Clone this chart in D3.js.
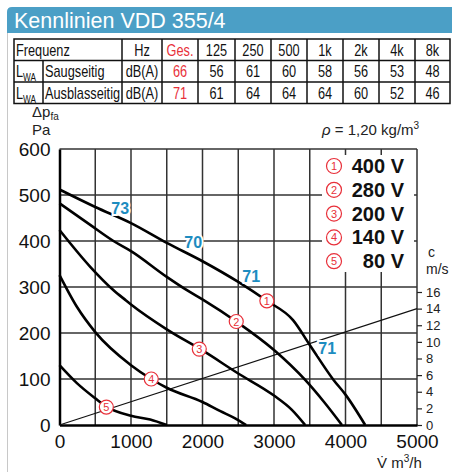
<!DOCTYPE html>
<html lang="de">
<head>
<meta charset="UTF-8">
<title>Kennlinien VDD 355/4</title>
<script src="https://d3js.org/d3.v7.min.js"></script>
<style>
  body { margin: 0; background: #fff; }
  svg { display: block; font-family: "Liberation Sans", Arial, sans-serif; }
</style>
</head>
<body>
<div id="chart"></div>
<script>
// table data
const freqs = ["Hz", "Ges.", "125", "250", "500", "1k", "2k", "4k", "8k"];
const saugseitig = ["dB(A)", 66, 56, 61, 60, 58, 56, 53, 48];
const ausblasseitig = ["dB(A)", 71, 61, 64, 64, 64, 60, 52, 46];

// chart ticks
const xTicks = [0, 1000, 2000, 3000, 4000, 5000];
const yTicks = [0, 100, 200, 300, 400, 500, 600];
const cTicks = [0, 2, 4, 6, 8, 10, 12, 14, 16];

// fan curves, [V m3/h, dp Pa]
const curve1 = [[0,512],[500,474],[1000,439],[1500,396],[2000,356],[2500,311],[2900,270],[3266,228],[3500,174],[3833,98],[4000,66],[4275,0]];
const curve2 = [[0,482],[430,435],[755,400],[1000,378],[1500,322],[1782,293],[2010,272],[2472,225],[3000,163],[3436,98],[3700,50],[3950,0]];
const curve3 = [[0,424],[430,344],[756,293],[920,272],[1000,262],[1500,208],[2000,162],[2500,112],[3000,64],[3250,33],[3436,0]];
const curve4 = [[0,326],[243,257],[500,202],[1000,130],[1283,100],[1500,81],[2000,50],[2250,30],[2450,15],[2611,0]];
const curve5 = [[0,130],[243,91],[500,58],[655,40],[1000,20],[1268,12],[1500,0]];
const curves = [curve1, curve2, curve3, curve4, curve5];
const voltages = ["400 V", "280 V", "200 V", "140 V", "80 V"];
const markerPts = [[2900,270],[2472,225],[1955,165],[1283,100],[655,39]];

// sound level labels on curve 1
const levelLabels = [
  {v: 849, p: 470, t: "73"},
  {v: 1870, p: 396, t: "70"},
  {v: 2681, p: 322, t: "71"},
  {v: 3744, p: 165, t: "71"}
];

// velocity line, [V m3/h, c m/s]
const velocity = [[0, 0], [5000, 14]];

const width = 452, height = 472;
const red = "#e8303a", blue = "#1d8cc0";

const svg = d3.select("#chart").append("svg")
  .attr("width", width).attr("height", height);

// frame + title banner
svg.append("line").attr("x1", 7.5).attr("x2", 7.5).attr("y1", 20).attr("y2", height)
  .attr("stroke", "#c8c8c8").attr("stroke-width", 1);
svg.append("path")
  .attr("d", "M7,33 V12 Q7,7 12,7 H452 V33 Z")
  .attr("fill", "#4b9fc6");
svg.append("text").attr("x", 14).attr("y", 28)
  .attr("fill", "#fff").attr("font-size", 21.5)
  .text("Kennlinien VDD 355/4");

// table (text squeezed horizontally, like a narrow face)
const colX = [14, 43, 122, 162, 198, 235, 271, 307, 343, 379, 415, 450];
const rowY = [39, 60.5, 82, 103.5];
const tbl = svg.append("g").attr("font-size", 17).attr("fill", "#111");
tbl.append("rect").attr("x", colX[0]).attr("y", rowY[0])
  .attr("width", colX[11] - colX[0]).attr("height", rowY[3] - rowY[0])
  .attr("fill", "none").attr("stroke", "#111").attr("stroke-width", 1.5);
rowY.slice(1, 3).forEach(yy => tbl.append("line")
  .attr("x1", colX[0]).attr("x2", colX[11]).attr("y1", yy).attr("y2", yy)
  .attr("stroke", "#111").attr("stroke-width", 1.5));
colX.slice(1, 11).forEach((xx, i) => tbl.append("line")
  .attr("x1", xx).attr("x2", xx).attr("y1", i === 0 ? rowY[1] : rowY[0]).attr("y2", rowY[3])
  .attr("stroke", "#111").attr("stroke-width", 1.5));

function cell(tx, ty, anchor) {
  return tbl.append("text")
    .attr("transform", `translate(${tx},${ty}) scale(0.75,1)`)
    .attr("text-anchor", anchor || "start");
}
cell(colX[0] + 2, rowY[1] - 5).text("Frequenz");
[["Saugseitig", saugseitig], ["Ausblasseitig", ausblasseitig]].forEach(([name, vals], r) => {
  const base = rowY[r + 2] - 5;
  const l = cell(colX[0] + 2, base);
  l.append("tspan").text("L");
  l.append("tspan").attr("font-size", 11).attr("dy", 4).text("WA");
  cell(colX[1] + 2, base).text(name);
  vals.forEach((v, i) => cell((colX[i + 2] + colX[i + 3]) / 2, base, "middle")
    .attr("fill", i === 1 ? red : "#111").text(v));
});
freqs.forEach((f, i) => cell((colX[i + 2] + colX[i + 3]) / 2, rowY[1] - 5, "middle")
  .attr("fill", i === 1 ? red : "#111").text(f));

// scales
const x = d3.scaleLinear().domain([0, 5000]).range([59.5, 417]);
const y = d3.scaleLinear().domain([0, 600]).range([425, 149]);
const c = d3.scaleLinear().domain([0, 16]).range([425, 292]);

// grid
const grid = svg.append("g").attr("stroke", "#333").attr("stroke-width", 1.5);
d3.range(500, 5001, 500).forEach(v => grid.append("line")
  .attr("x1", x(v)).attr("x2", x(v)).attr("y1", y(0)).attr("y2", y(600)));
d3.range(100, 601, 100).forEach(p => grid.append("line")
  .attr("x1", x(0)).attr("x2", x(5000)).attr("y1", y(p)).attr("y2", y(p)));

// legend box (white, covers grid)
const lg = svg.append("g");
lg.append("rect").attr("x", 322).attr("y", 155).attr("width", 92).attr("height", 117).attr("fill", "#fff");

// axes
svg.append("g").attr("transform", `translate(${x(0)},0)`)
  .call(d3.axisLeft(y).tickValues(yTicks).tickSize(0).tickPadding(9))
  .call(g => g.select(".domain").attr("stroke", "#000").attr("stroke-width", 2.5))
  .call(g => g.selectAll("text").attr("font-size", 19).attr("fill", "#111").attr("font-family", "Liberation Sans, Arial, sans-serif"));
svg.append("g").attr("transform", `translate(0,${y(0)})`)
  .call(d3.axisBottom(x).tickValues(xTicks).tickFormat(d3.format("d")).tickSize(0).tickPadding(10))
  .call(g => g.select(".domain").attr("stroke", "#000").attr("stroke-width", 2.5))
  .call(g => g.selectAll("text").attr("font-size", 19).attr("fill", "#111").attr("font-family", "Liberation Sans, Arial, sans-serif"));
svg.append("g").attr("transform", `translate(${x(5000)},0)`)
  .call(d3.axisRight(c).tickValues(cTicks).tickSize(5).tickPadding(4))
  .call(g => g.select(".domain").remove())
  .call(g => g.selectAll("line").attr("stroke", "#222").attr("stroke-width", 1.2))
  .call(g => g.selectAll("text").attr("font-size", 13).attr("fill", "#222").attr("font-family", "Liberation Sans, Arial, sans-serif"));

// axis titles
const at = svg.append("g").attr("fill", "#222").attr("font-size", 15);
const dp = at.append("text").attr("x", 32).attr("y", 117);
dp.append("tspan").text("Δp");
dp.append("tspan").attr("font-size", 10).attr("dy", 3).text("fa");
at.append("text").attr("x", 32).attr("y", 135).text("Pa");
at.append("text").attr("x", 428).attr("y", 257).attr("font-size", 14).text("c");
at.append("text").attr("x", 426).attr("y", 274).attr("font-size", 14).text("m/s");
const vt = at.append("text").attr("x", 377).attr("y", 468);
vt.append("tspan").text("V\u0307  m");
vt.append("tspan").attr("font-size", 10).attr("dy", -6).text("3");
vt.append("tspan").attr("dy", 6).text("/h");
const rho = at.append("text").attr("x", 322).attr("y", 135);
rho.append("tspan").attr("font-style", "italic").text("ρ");
rho.append("tspan").text(" = 1,20 kg/m");
rho.append("tspan").attr("font-size", 10).attr("dy", -6).text("3");

// velocity line
svg.append("path")
  .attr("d", d3.line().x(d => x(d[0])).y(d => c(d[1]))(velocity))
  .attr("fill", "none").attr("stroke", "#111").attr("stroke-width", 1.1);

// fan curves
const line = d3.line().x(d => x(d[0])).y(d => y(d[1])).curve(d3.curveMonotoneX);
svg.append("g").selectAll("path").data(curves).join("path")
  .attr("d", line).attr("fill", "none").attr("stroke", "#000").attr("stroke-width", 2.6);

// sound levels
svg.append("g").selectAll("text").data(levelLabels).join("text")
  .attr("x", d => x(d.v)).attr("y", d => y(d.p) + 5)
  .attr("text-anchor", "middle").attr("font-size", 16).attr("font-weight", "bold")
  .attr("fill", blue).attr("stroke", "#fff").attr("stroke-width", 4)
  .attr("paint-order", "stroke").text(d => d.t);

// numbered markers
function marker(g, cx, cy, n, r) {
  g.append("circle").attr("cx", cx).attr("cy", cy).attr("r", r)
    .attr("fill", "#fff").attr("stroke", red).attr("stroke-width", 1.2);
  g.append("text").attr("x", cx).attr("y", cy + 4).attr("text-anchor", "middle")
    .attr("font-size", 11).attr("fill", red).text(n);
}
const mk = svg.append("g");
markerPts.forEach((d, i) => marker(mk, x(d[0]), y(d[1]), i + 1, 7));

// legend
voltages.forEach((v, i) => {
  const yy = 166 + i * 23.8;
  marker(lg, 334, yy, i + 1, 7.5);
  lg.append("text").attr("x", 404).attr("y", yy + 7).attr("text-anchor", "end")
    .attr("font-size", 20).attr("font-weight", "bold").attr("fill", "#111").text(v);
});
</script>
</body>
</html>
